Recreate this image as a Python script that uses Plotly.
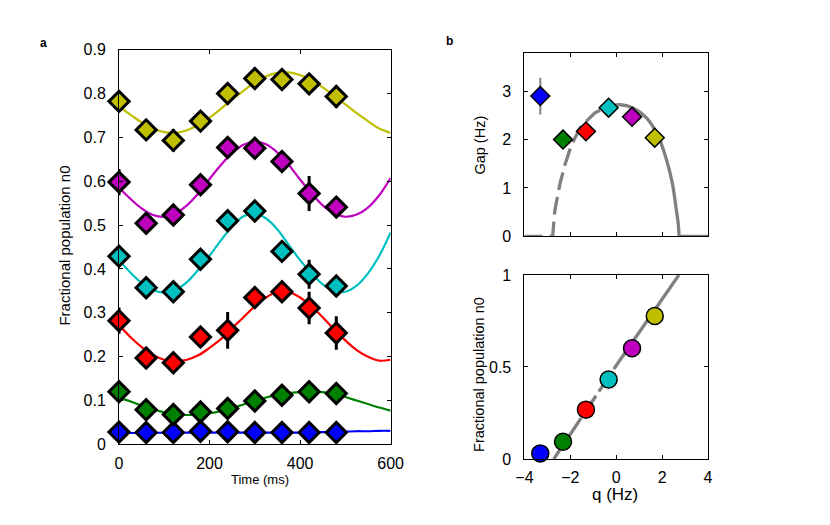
import plotly.graph_objects as go

# ---- panel a: oscillations of n0 ----
time_ms = [0, 60, 120, 180, 240, 300, 360, 420, 480]

n0_blue = [0.028, 0.027, 0.027, 0.030, 0.029, 0.027, 0.027, 0.027, 0.027]
n0_green = [0.120, 0.079, 0.068, 0.074, 0.082, 0.099, 0.112, 0.120, 0.116]
n0_red = [0.282, 0.197, 0.186, 0.245, 0.260, 0.335, 0.348, 0.311, 0.254]
n0_cyan = [0.429, 0.357, 0.348, 0.422, 0.510, 0.532, 0.440, 0.388, 0.361]
n0_magenta = [0.598, 0.504, 0.523, 0.592, 0.677, 0.675, 0.645, 0.572, 0.541]
n0_yellow = [0.782, 0.717, 0.693, 0.737, 0.800, 0.834, 0.832, 0.822, 0.793]

err_blue = [0.01] * 9
err_green = [0.015] * 9
err_red = [0.03, 0.015, 0.015, 0.02, 0.042, 0.015, 0.022, 0.037, 0.038]
err_cyan = [0.015, 0.015, 0.015, 0.015, 0.015, 0.015, 0.015, 0.033, 0.015]
err_magenta = [0.03, 0.015, 0.015, 0.015, 0.015, 0.015, 0.015, 0.04, 0.015]
err_yellow = [0.015, 0.015, 0.026, 0.015, 0.015, 0.015, 0.015, 0.015, 0.026]

fit_t = [0, 25, 50, 75, 100, 125, 150, 175, 200, 225, 250, 275, 300,
         325, 350, 375, 400, 425, 450, 475, 500, 525, 550, 575, 600]
fit_blue = [0.026, 0.026, 0.026, 0.026, 0.027, 0.027, 0.027, 0.027, 0.027, 0.027, 0.027, 0.027, 0.027,
            0.027, 0.027, 0.027, 0.027, 0.027, 0.028, 0.028, 0.029, 0.030, 0.030, 0.031, 0.031]
fit_green = [0.106, 0.098, 0.088, 0.080, 0.073, 0.069, 0.067, 0.068, 0.071, 0.076, 0.083, 0.091, 0.099,
             0.107, 0.113, 0.117, 0.119, 0.120, 0.119, 0.115, 0.108, 0.100, 0.092, 0.084, 0.077]
fit_red = [0.272, 0.245, 0.222, 0.204, 0.193, 0.190, 0.193, 0.203, 0.220, 0.240, 0.265, 0.290, 0.315,
           0.335, 0.348, 0.347, 0.335, 0.315, 0.290, 0.262, 0.237, 0.215, 0.200, 0.191, 0.193]
fit_cyan = [0.420, 0.392, 0.368, 0.352, 0.346, 0.352, 0.370, 0.398, 0.430, 0.465, 0.497, 0.520, 0.526,
            0.515, 0.490, 0.455, 0.420, 0.390, 0.365, 0.350, 0.348, 0.362, 0.390, 0.430, 0.483]
fit_magenta = [0.585, 0.560, 0.538, 0.523, 0.519, 0.527, 0.545, 0.572, 0.605, 0.637, 0.664, 0.683, 0.690,
               0.684, 0.665, 0.637, 0.604, 0.572, 0.545, 0.527, 0.519, 0.524, 0.540, 0.568, 0.607]
fit_yellow = [0.770, 0.752, 0.734, 0.720, 0.712, 0.710, 0.716, 0.728, 0.745, 0.765, 0.786, 0.806, 0.825,
              0.839, 0.847, 0.848, 0.842, 0.830, 0.814, 0.795, 0.775, 0.755, 0.737, 0.720, 0.710]

# ---- panel b: gap and n0 versus q ----
q_hz = [-3.31, -2.32, -1.32, -0.33, 0.69, 1.68]
gap_hz = [2.90, 2.00, 2.17, 2.66, 2.47, 2.04]
gap_err = [0.38, 0.0, 0.0, 0.0, 0.0, 0.0]
n0_q = [0.030, 0.093, 0.268, 0.432, 0.602, 0.777]

gap_dash_q = [-4.0, -2.77, -2.70, -2.67, -2.45, -2.23, -1.95, -1.57, -0.94, -0.37]
gap_dash_v = [0.0, 0.0, 0.42, 0.55, 1.09, 1.49, 1.89, 2.25, 2.55, 2.69]
gap_solid_q = [-0.37, 0.19, 0.76, 1.32, 1.81, 2.17, 2.45, 2.62, 2.70, 2.74]
gap_solid_v = [2.69, 2.72, 2.65, 2.45, 2.09, 1.62, 1.09, 0.55, 0.28, 0.0]
gap_flat_q = [2.74, 4.0]
gap_flat_v = [0.0, 0.0]

line_dash_q = [-2.72, 0.12]
line_dash_v = [0.0, 0.53]
line_solid_q = [0.12, 2.73]
line_solid_v = [0.53, 1.0]

colors = ["#0000ff", "#008000", "#ff0000", "#00bfbf", "#bf00bf", "#bfbf00"]
FONT = "Liberation Sans, Arial, Helvetica, sans-serif"
GRAY = "#808080"

fig = go.Figure()

series = [
    (n0_blue, err_blue, fit_blue),
    (n0_green, err_green, fit_green),
    (n0_red, err_red, fit_red),
    (n0_cyan, err_cyan, fit_cyan),
    (n0_magenta, err_magenta, fit_magenta),
    (n0_yellow, err_yellow, fit_yellow),
]

# fit lines under the markers
for (vals, errs, fit), col in zip(series, colors):
    fig.add_trace(go.Scatter(x=fit_t, y=fit, mode="lines", line=dict(color=col, width=2.2, shape="spline"),
                             xaxis="x", yaxis="y", hoverinfo="skip"))
for (vals, errs, fit), col in zip(series, colors):
    fig.add_trace(go.Scatter(
        x=time_ms, y=vals, mode="markers", cliponaxis=False,
        marker=dict(symbol="diamond", size=15.5, color=col, line=dict(color="black", width=3)),
        error_y=dict(type="data", array=errs, visible=True, color="black", thickness=3, width=0),
        xaxis="x", yaxis="y"))

# gap panel
fig.add_trace(go.Scatter(x=gap_dash_q, y=gap_dash_v, mode="lines",
                         line=dict(color=GRAY, width=3.3, dash="18px,7px"), xaxis="x2", yaxis="y2"))
fig.add_trace(go.Scatter(x=gap_solid_q, y=gap_solid_v, mode="lines",
                         line=dict(color=GRAY, width=3.3, shape="spline"), xaxis="x2", yaxis="y2"))
fig.add_trace(go.Scatter(x=gap_flat_q, y=gap_flat_v, mode="lines",
                         line=dict(color=GRAY, width=3.3), xaxis="x2", yaxis="y2"))
fig.add_trace(go.Scatter(
    x=q_hz, y=gap_hz, mode="markers", cliponaxis=False,
    marker=dict(symbol="diamond", size=14.5, color=colors, line=dict(color="black", width=1.5)),
    error_y=dict(type="data", array=gap_err, visible=True, color=GRAY, thickness=2, width=0),
    xaxis="x2", yaxis="y2"))

# n0 vs q panel
fig.add_trace(go.Scatter(x=line_dash_q, y=line_dash_v, mode="lines",
                         line=dict(color=GRAY, width=3.3, dash="22px,5px"), xaxis="x3", yaxis="y3"))
fig.add_trace(go.Scatter(x=line_solid_q, y=line_solid_v, mode="lines",
                         line=dict(color=GRAY, width=3.3), xaxis="x3", yaxis="y3"))
fig.add_trace(go.Scatter(
    x=q_hz, y=n0_q, mode="markers", cliponaxis=False,
    marker=dict(symbol="circle", size=17, color=colors, line=dict(color="black", width=1.5)),
    xaxis="x3", yaxis="y3"))

W, H = 830, 525

def px_x(x):
    return x / W

def px_y(y):
    return 1 - y / H

axis_style = dict(showline=True, linecolor="black", linewidth=1, mirror="ticks", ticks="inside",
                  ticklen=4, tickcolor="black", showgrid=False, zeroline=False,
                  tickfont=dict(family=FONT, size=16, color="black"))

fig.update_layout(
    width=W, height=H, margin=dict(l=0, r=0, t=0, b=0),
    paper_bgcolor="white", plot_bgcolor="white", showlegend=False,
    xaxis=dict(domain=[px_x(113), px_x(392)], range=[0, 600], tickvals=[0, 200, 400, 600],
               anchor="y", ticklabelstandoff=4, **axis_style),
    yaxis=dict(domain=[px_y(451), px_y(43)], range=[0, 0.9], dtick=0.1, anchor="x",
               ticklabelstandoff=9, **axis_style),
    xaxis2=dict(domain=[px_x(529.5), px_x(718)], range=[-4, 4], dtick=2, showticklabels=False,
                anchor="y2", **axis_style),
    yaxis2=dict(domain=[px_y(236), px_y(46)], range=[0, 3.8], tickvals=[0, 1, 2, 3], anchor="x2",
                ticklabelstandoff=9, **axis_style),
    xaxis3=dict(domain=[px_x(529.5), px_x(718)], range=[-4, 4], dtick=2, anchor="y3",
                ticklabelstandoff=4, **axis_style),
    yaxis3=dict(domain=[px_y(466), px_y(276)], range=[0, 1], tickvals=[0, 0.5, 1], anchor="x3",
                ticklabelstandoff=9, **axis_style),
)

notes = [
    ("a", 35, 36, 12, True, 0),
    ("b", 452, 34, 12, True, 0),
    ("Fractional population n0", 57, 245, 15, False, -90),
    ("Time (ms)", 258, 487, 13, False, 0),
    ("Gap (Hz)", 484, 142, 14.5, False, -90),
    ("Fractional population n0", 483, 379, 14.5, False, -90),
    ("q (Hz)", 622, 503, 17, False, 0),
]
for text, x, y, size, bold, ang in notes:
    fig.add_annotation(text="<b>%s</b>" % text if bold else text, x=px_x(x), y=px_y(y),
                       xref="paper", yref="paper", showarrow=False, textangle=ang,
                       xanchor="center", yanchor="middle",
                       font=dict(family=FONT, size=size, color="black"))

# the page's default body margin shifts the figure; remove it
fig.write_html("out.html", config={"displayModeBar": False},
               post_script="document.body.style.margin='0px';")
